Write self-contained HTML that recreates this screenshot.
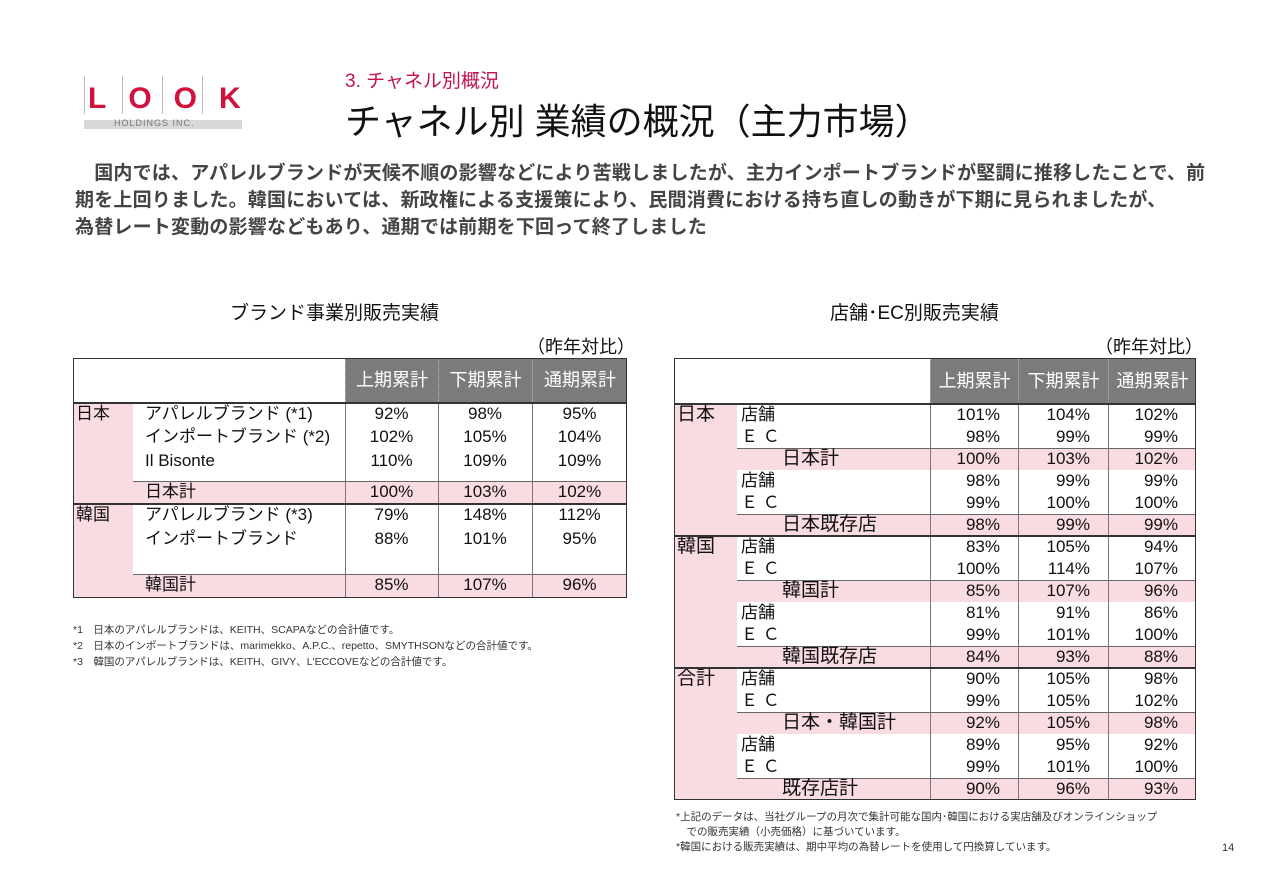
<!DOCTYPE html>
<html><head><meta charset="utf-8"><style>
body{margin:0;width:1280px;height:886px;background:#fff;position:relative;overflow:hidden;font-family:"Liberation Sans","Noto Sans CJK JP",sans-serif;color:#111}
.a{position:absolute;white-space:nowrap}
.cell{position:absolute;box-sizing:border-box;font-size:17px;line-height:22px}
</style></head><body>
<div class="a" style="left:84px;top:66px;width:160px;height:66px">
 <div class="a" style="left:4px;top:16px;font:bold 30px 'Liberation Sans',sans-serif;color:#d2113d;letter-spacing:22px">LOOK</div>
 <div class="a" style="left:0;top:10px;width:1px;height:38px;background:#bbb"></div>
 <div class="a" style="left:38px;top:10px;width:1px;height:38px;background:#bbb"></div>
 <div class="a" style="left:78px;top:10px;width:1px;height:38px;background:#bbb"></div>
 <div class="a" style="left:118px;top:10px;width:1px;height:38px;background:#bbb"></div>
 <div class="a" style="left:0;top:54px;width:158px;height:9px;background:#d8d8d8"></div>
 <div class="a" style="left:30px;top:52px;font-size:9px;color:#777;letter-spacing:1px">HOLDINGS INC.</div>
</div>
<div class="a" style="left:345px;top:66px;font-size:19px;color:#c0144a">3. チャネル別概況</div>
<div class="a" style="left:345px;top:93px;font-size:36px;color:#111">チャネル別 業績の概況（主力市場）</div>
<div class="a" style="left:75px;top:160px;font-size:19px;font-weight:bold;line-height:27px;color:#444;letter-spacing:0.2px">　国内では、アパレルブランドが天候不順の影響などにより苦戦しましたが、主力インポートブランドが堅調に推移したことで、前<br>期を上回りました。韓国においては、新政権による支援策により、民間消費における持ち直しの動きが下期に見られましたが、<br>為替レート変動の影響などもあり、通期では前期を下回って終了しました</div>
<div class="a" style="left:230px;top:298px;font-size:19px">ブランド事業別販売実績</div>
<div class="a" style="left:527px;top:333px;font-size:18px">（昨年対比）</div>
<div class="a" style="left:830px;top:298px;font-size:19px">店舗･EC別販売実績</div>
<div class="a" style="left:1095px;top:333px;font-size:18px">（昨年対比）</div>
<div id="lt"></div>
<div id="rt"></div>
<div class="a" style="left:73px;top:622px;font-size:10.5px;line-height:16px;color:#333">*1　日本のアパレルブランドは、KEITH、SCAPAなどの合計値です。<br>*2　日本のインポートブランドは、marimekko、A.P.C.、repetto、SMYTHSONなどの合計値です。<br>*3　韓国のアパレルブランドは、KEITH、GIVY、L'ECCOVEなどの合計値です。</div>
<div class="a" style="left:676px;top:810px;font-size:10.5px;line-height:15px;color:#333">*上記のデータは、当社グループの月次で集計可能な国内･韓国における実店舗及びオンラインショップ<br>　での販売実績（小売価格）に基づいています。<br>*韓国における販売実績は、期中平均の為替レートを使用して円換算しています。</div>
<div class="a" style="left:1222px;top:842px;font-size:11px;color:#333">14</div>
<script>
const headers=["上期累計","下期累計","通期累計"];
const leftRows=[["日本","アパレルブランド (*1)","92%","98%","95%"],["","インポートブランド (*2)","102%","105%","104%"],["","Il Bisonte","110%","109%","109%"],["","日本計","100%","103%","102%"],["韓国","アパレルブランド (*3)","79%","148%","112%"],["","インポートブランド","88%","101%","95%"],["","韓国計","85%","107%","96%"]];
const rightRows=[["日本","店舗","101%","104%","102%"],["","Ｅ Ｃ","98%","99%","99%"],["","日本計","100%","103%","102%"],["","店舗","98%","99%","99%"],["","Ｅ Ｃ","99%","100%","100%"],["","日本既存店","98%","99%","99%"],["韓国","店舗","83%","105%","94%"],["","Ｅ Ｃ","100%","114%","107%"],["","韓国計","85%","107%","96%"],["","店舗","81%","91%","86%"],["","Ｅ Ｃ","99%","101%","100%"],["","韓国既存店","84%","93%","88%"],["合計","店舗","90%","105%","98%"],["","Ｅ Ｃ","99%","105%","102%"],["","日本・韓国計","92%","105%","98%"],["","店舗","89%","95%","92%"],["","Ｅ Ｃ","99%","101%","100%"],["","既存店計","90%","96%","93%"]];
const PINK="#f9dbe2";
function box(parent,x,y,w,h,style,text){const d=document.createElement('div');d.className='cell';d.style.cssText=`left:${x}px;top:${y}px;width:${w}px;height:${h}px;`+style;if(text!==undefined)d.textContent=text;document.body.appendChild(d);return d;}
function table(X,cols,top,hdrH,rowYs,rows,isRight){
 const W=cols[cols.length-1]-X;
 const fullH=rowYs[rowYs.length-1]-top;
 let b=box(null,X,top+hdrH,cols[0]-X,fullH-hdrH,`background:${PINK}`);
 
 
 for(let i=0;i<3;i++){const h=box(null,cols[i+1],top,cols[i+2]-cols[i+1],hdrH,`background:#7b7b7b;color:#fff;text-align:center;line-height:${hdrH}px;font-size:18px;border-left:1px dotted #bbb`,headers[i]);
 
 }
 rows.forEach((r,k)=>{
  const y=rowYs[k],h=rowYs[k+1]-y;
  const sub=r[1].endsWith('計')||r[1].endsWith('店');
  if(sub){const p=box(null,cols[0],y,W-(cols[0]-X),h,`background:${PINK};border-top:1px solid #666`);
  
  }
  if(r[0]){const l=box(null,X+3,y,60,22,'',r[0]);l.style.fontSize=isRight?'19px':'17px';}
  const lx=cols[0]+(sub&&isRight?45:(isRight?4:12));
  const t=box(null,lx,y,200,22,isRight&&sub?'font-size:19px':'',r[1]);
  
  
  for(let i=0;i<3;i++){const v=box(null,cols[i+1],y,cols[i+2]-cols[i+1]-(isRight?18:0),22,isRight?'text-align:right':'text-align:center',r[2+i]);
  
  }
 });
 for(let i=1;i<cols.length-1;i++){const v=box(null,cols[i],top+hdrH,1,fullH-hdrH,'background:#777');}
 const o=box(null,X,top,W,fullH,'border:1.5px solid #333;border-top:1px solid #333');
 
 
 const hl=box(null,X,top+hdrH-1,W,2,'background:#333');
 
 
}
const lY=[403,426,450,481,504,528,574,598];
table(73,[133,345,438,532,627],358,45,lY,leftRows,false);
const s=box(null,73,503,554,2,'background:#333');


const rY=[];for(let k=0;k<=18;k++)rY.push(404+k*22);
table(674,[737,930,1018,1108,1196],358,46,rY,rightRows,true);
[536,668].forEach(y=>{const r=box(null,674,y-1,522,2,'background:#333');});
</script>
</body></html>
